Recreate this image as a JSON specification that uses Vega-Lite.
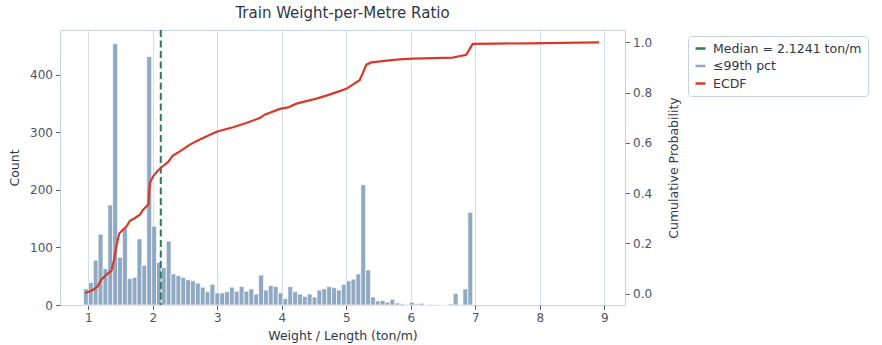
{
  "$schema": "https://vega.github.io/schema/vega-lite/v6.json",
  "width": 565,
  "height": 275,
  "autosize": {"type": "none"},
  "padding": {"left": 60, "top": 30, "right": 257, "bottom": 40},
  "background": "white",
  "title": {"text": "Train Weight-per-Metre Ratio", "font": "DejaVu Sans", "fontSize": 15, "fontWeight": "normal", "color": "#2d3748", "anchor": "middle", "frame": "group", "offset": 8},
  "config": {
    "view": {"stroke": "#c6d4e1", "strokeWidth": 1},
    "axis": {
      "labelFont": "DejaVu Sans", "titleFont": "DejaVu Sans",
      "labelFontSize": 12, "titleFontSize": 12.5,
      "labelColor": "#4a5568", "titleColor": "#2d3748",
      "titleFontWeight": "normal",
      "tickColor": "#5b6777", "tickSize": 4.5, "labelPadding": 3,
      "domain": false, "grid": false
    }
  },
  "datasets": {
    "hist": [
      {"lo": 0.927, "hi": 1.002, "count": 28},
      {"lo": 1.002, "hi": 1.078, "count": 39},
      {"lo": 1.078, "hi": 1.153, "count": 78},
      {"lo": 1.153, "hi": 1.229, "count": 123},
      {"lo": 1.229, "hi": 1.304, "count": 63},
      {"lo": 1.304, "hi": 1.379, "count": 174},
      {"lo": 1.379, "hi": 1.455, "count": 454},
      {"lo": 1.455, "hi": 1.530, "count": 83},
      {"lo": 1.530, "hi": 1.606, "count": 133},
      {"lo": 1.606, "hi": 1.681, "count": 46},
      {"lo": 1.681, "hi": 1.756, "count": 48},
      {"lo": 1.756, "hi": 1.832, "count": 115},
      {"lo": 1.832, "hi": 1.907, "count": 69},
      {"lo": 1.907, "hi": 1.983, "count": 432},
      {"lo": 1.983, "hi": 2.058, "count": 137},
      {"lo": 2.058, "hi": 2.133, "count": 74},
      {"lo": 2.133, "hi": 2.209, "count": 65},
      {"lo": 2.209, "hi": 2.284, "count": 111},
      {"lo": 2.284, "hi": 2.360, "count": 54},
      {"lo": 2.360, "hi": 2.435, "count": 51},
      {"lo": 2.435, "hi": 2.510, "count": 48},
      {"lo": 2.510, "hi": 2.586, "count": 44},
      {"lo": 2.586, "hi": 2.661, "count": 42},
      {"lo": 2.661, "hi": 2.737, "count": 38},
      {"lo": 2.737, "hi": 2.812, "count": 31},
      {"lo": 2.812, "hi": 2.887, "count": 23},
      {"lo": 2.887, "hi": 2.963, "count": 36},
      {"lo": 2.963, "hi": 3.038, "count": 21},
      {"lo": 3.038, "hi": 3.114, "count": 21},
      {"lo": 3.114, "hi": 3.189, "count": 23},
      {"lo": 3.189, "hi": 3.264, "count": 31},
      {"lo": 3.264, "hi": 3.340, "count": 24},
      {"lo": 3.340, "hi": 3.415, "count": 32},
      {"lo": 3.415, "hi": 3.491, "count": 24},
      {"lo": 3.491, "hi": 3.566, "count": 28},
      {"lo": 3.566, "hi": 3.641, "count": 19},
      {"lo": 3.641, "hi": 3.717, "count": 52},
      {"lo": 3.717, "hi": 3.792, "count": 26},
      {"lo": 3.792, "hi": 3.868, "count": 34},
      {"lo": 3.868, "hi": 3.943, "count": 32},
      {"lo": 3.943, "hi": 4.018, "count": 21},
      {"lo": 4.018, "hi": 4.094, "count": 11},
      {"lo": 4.094, "hi": 4.169, "count": 32},
      {"lo": 4.169, "hi": 4.245, "count": 23},
      {"lo": 4.245, "hi": 4.320, "count": 19},
      {"lo": 4.320, "hi": 4.395, "count": 15},
      {"lo": 4.395, "hi": 4.471, "count": 19},
      {"lo": 4.471, "hi": 4.546, "count": 14},
      {"lo": 4.546, "hi": 4.622, "count": 26},
      {"lo": 4.622, "hi": 4.697, "count": 28},
      {"lo": 4.697, "hi": 4.772, "count": 32},
      {"lo": 4.772, "hi": 4.848, "count": 30},
      {"lo": 4.848, "hi": 4.923, "count": 26},
      {"lo": 4.923, "hi": 4.999, "count": 36},
      {"lo": 4.999, "hi": 5.074, "count": 42},
      {"lo": 5.074, "hi": 5.149, "count": 45},
      {"lo": 5.149, "hi": 5.225, "count": 54},
      {"lo": 5.225, "hi": 5.300, "count": 209},
      {"lo": 5.300, "hi": 5.376, "count": 61},
      {"lo": 5.376, "hi": 5.451, "count": 14},
      {"lo": 5.451, "hi": 5.526, "count": 7},
      {"lo": 5.526, "hi": 5.602, "count": 8},
      {"lo": 5.602, "hi": 5.677, "count": 5},
      {"lo": 5.677, "hi": 5.753, "count": 10},
      {"lo": 5.753, "hi": 5.828, "count": 3.5},
      {"lo": 5.828, "hi": 5.903, "count": 2},
      {"lo": 5.903, "hi": 5.979, "count": 1},
      {"lo": 5.979, "hi": 6.054, "count": 5},
      {"lo": 6.054, "hi": 6.130, "count": 2},
      {"lo": 6.130, "hi": 6.205, "count": 3},
      {"lo": 6.205, "hi": 6.280, "count": 0},
      {"lo": 6.280, "hi": 6.356, "count": 1},
      {"lo": 6.356, "hi": 6.431, "count": 1},
      {"lo": 6.431, "hi": 6.507, "count": 0},
      {"lo": 6.507, "hi": 6.582, "count": 0},
      {"lo": 6.582, "hi": 6.657, "count": 2},
      {"lo": 6.657, "hi": 6.733, "count": 20},
      {"lo": 6.733, "hi": 6.808, "count": 1},
      {"lo": 6.808, "hi": 6.884, "count": 28},
      {"lo": 6.884, "hi": 6.959, "count": 161}
    ],
    "ecdf": [
      {"x": 0.95, "p": 0.003},
      {"x": 1.05, "p": 0.012},
      {"x": 1.14, "p": 0.027},
      {"x": 1.207, "p": 0.058},
      {"x": 1.285, "p": 0.076},
      {"x": 1.362, "p": 0.093},
      {"x": 1.40, "p": 0.135},
      {"x": 1.44, "p": 0.195},
      {"x": 1.48, "p": 0.239},
      {"x": 1.54, "p": 0.255},
      {"x": 1.595, "p": 0.268},
      {"x": 1.645, "p": 0.29},
      {"x": 1.72, "p": 0.30},
      {"x": 1.80, "p": 0.314},
      {"x": 1.85, "p": 0.334},
      {"x": 1.93, "p": 0.354},
      {"x": 1.955, "p": 0.44},
      {"x": 2.006, "p": 0.467},
      {"x": 2.07, "p": 0.487},
      {"x": 2.136, "p": 0.503},
      {"x": 2.24, "p": 0.524},
      {"x": 2.31, "p": 0.549},
      {"x": 2.42, "p": 0.566},
      {"x": 2.575, "p": 0.593},
      {"x": 2.73, "p": 0.613},
      {"x": 2.94, "p": 0.638},
      {"x": 3.0, "p": 0.645},
      {"x": 3.245, "p": 0.662},
      {"x": 3.45, "p": 0.679},
      {"x": 3.66, "p": 0.699},
      {"x": 3.735, "p": 0.712},
      {"x": 3.97, "p": 0.735},
      {"x": 4.097, "p": 0.741},
      {"x": 4.226, "p": 0.756},
      {"x": 4.536, "p": 0.776},
      {"x": 4.69, "p": 0.788},
      {"x": 4.886, "p": 0.805},
      {"x": 5.0, "p": 0.815},
      {"x": 5.206, "p": 0.849},
      {"x": 5.257, "p": 0.878},
      {"x": 5.31, "p": 0.911},
      {"x": 5.387, "p": 0.920},
      {"x": 5.774, "p": 0.931},
      {"x": 6.03, "p": 0.935},
      {"x": 6.65, "p": 0.939},
      {"x": 6.858, "p": 0.950},
      {"x": 6.96, "p": 0.994},
      {"x": 7.32, "p": 0.995},
      {"x": 7.84, "p": 0.996},
      {"x": 8.35, "p": 0.998},
      {"x": 8.92, "p": 1.0}
    ],
    "median": [{"median": 2.1241}]
  },
  "layer": [
    {
      "data": {"name": "hist"},
      "mark": {"type": "bar", "stroke": "white", "strokeWidth": 0.7},
      "encoding": {
        "x": {"field": "lo", "type": "quantitative", "scale": {"domain": [0.562, 9.32], "nice": false, "zero": false},
              "axis": {"title": "Weight / Length (ton/m)", "values": [1, 2, 3, 4, 5, 6, 7, 8, 9], "format": "d", "grid": true, "gridColor": "#d3dde8", "gridWidth": 1, "titlePadding": 6}},
        "x2": {"field": "hi"},
        "y": {"field": "count", "type": "quantitative", "scale": {"domain": [0, 478], "nice": false},
              "axis": {"title": "Count", "orient": "left", "values": [0, 100, 200, 300, 400], "titlePadding": 8}},
        "y2": {"datum": 0},
        "color": {"datum": "≤99th pct", "type": "nominal",
          "scale": {"domain": ["Median = 2.1241 ton/m", "≤99th pct", "ECDF"], "range": ["#2e7d4f", "#8fa9c2", "#d9392a"]},
          "legend": {
            "title": null, "orient": "none", "legendX": 628, "legendY": 6,
            "labelFont": "DejaVu Sans", "labelFontSize": 12.5, "labelColor": "#2d3748",
            "strokeColor": "#c6d4e1", "fillColor": "white", "cornerRadius": 3, "padding": 6,
            "symbolType": "stroke", "symbolSize": 100, "symbolStrokeWidth": 2.5, "labelOffset": 6, "rowPadding": 4.5
          }
        }
      }
    },
    {
      "data": {"name": "median"},
      "mark": {"type": "rule", "strokeWidth": 2, "strokeDash": [7, 3.5]},
      "encoding": {
        "x": {"field": "median", "type": "quantitative"},
        "color": {"datum": "Median = 2.1241 ton/m", "type": "nominal"}
      }
    },
    {
      "data": {"name": "ecdf"},
      "mark": {"type": "line", "strokeWidth": 2.2, "clip": true},
      "encoding": {
        "x": {"field": "x", "type": "quantitative"},
        "y": {"field": "p", "type": "quantitative", "scale": {"domain": [-0.045, 1.049], "nice": false, "zero": false},
              "axis": {"title": "Cumulative Probability", "orient": "right", "values": [0, 0.2, 0.4, 0.6, 0.8, 1.0], "format": ".1f", "titleAngle": 270, "titleBaseline": "top", "titlePadding": 16}},
        "color": {"datum": "ECDF", "type": "nominal"}
      }
    }
  ],
  "resolve": {"scale": {"y": "independent"}}
}
